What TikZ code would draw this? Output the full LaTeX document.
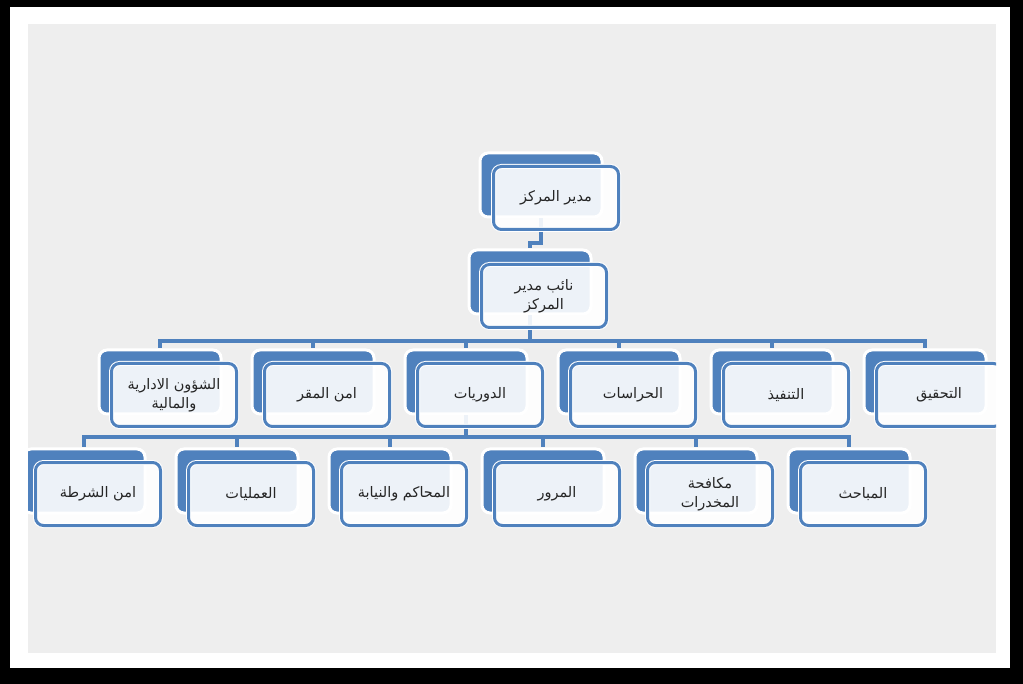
\documentclass[tikz,border=0pt]{standalone}
\usepackage{fontspec}
\newfontfamily\arabicfont[Script=Arabic]{DejaVu Sans}
\TeXXeTstate=1
\newcommand{\rl}[1]{\beginR#1\endR}
\definecolor{unitblue}{RGB}{79,129,189}
\definecolor{panelgray}{RGB}{238,238,238}
\begin{document}
\begin{tikzpicture}[x=1pt, y=-1pt,
  back/.style={rounded corners=8pt, fill=unitblue, draw=white, line width=3pt,
    minimum width=122pt, minimum height=64pt, inner sep=0pt},
  front/.style={rounded corners=8pt, draw=unitblue, line width=3pt,
    fill=white, fill opacity=0.9, text opacity=1,
    preaction={draw=white, line width=5pt},
    minimum width=125pt, minimum height=63pt, inner sep=2pt, align=center,
    text=black!85, font=\arabicfont\fontsize{14.5}{19}\selectfont},
  link/.style={draw=unitblue, line width=3.5pt}]

% ----- Frame -----
\fill[black] (0,0) rectangle (1023,684);
\fill[white] (10,7) rectangle (1010,668);
\fill[panelgray] (28,24) rectangle (996,653);

\begin{scope}
\clip (28,24) rectangle (996,653);

% ----- Back plates -----
\node[back] (b-head) at (541,185) {};
\node[back] (b-dep) at (530,282) {};
\foreach \n [count=\i from 0] in {adm,seat,patrol,guard,exec,inv}{
  \node[back] (b-\n) at (160+153*\i,382) {};
}
\foreach \n [count=\i from 0] in {police,ops,courts,traffic,drugs,crime}{
  \node[back] (b-\n) at (84+153*\i,481) {};
}

% ----- Connectors -----
\coordinate (bar0) at (0,243);
\coordinate (bar1) at (0,341);
\coordinate (bar2) at (0,437);
\draw[link] (b-head.south) |- (bar0 -| b-dep.north) -- (b-dep.north);
\foreach \n in {adm,seat,patrol,guard,exec,inv}{
  \draw[link] (b-dep.south) |- (bar1 -| b-\n.north) -- (b-\n.north);
}
\foreach \n in {police,ops,courts,traffic,drugs,crime}{
  \draw[link] (b-patrol.south) |- (bar2 -| b-\n.north) -- (b-\n.north);
}

% ----- Front boxes with labels -----
\node[front] (f-head) at ([shift={(15,13)}]b-head.center) {\rl{مدير المركز}};
\node[front] (f-dep) at ([shift={(14,14)}]b-dep.center) {\rl{نائب مدير}\\\rl{المركز}};
\foreach \n/\txt in {adm/{\rl{الشؤون الادارية}\\\rl{والمالية}}, seat/{\rl{امن المقر}},
    patrol/{\rl{الدوريات}}, guard/{\rl{الحراسات}}, exec/{\rl{التنفيذ}}, inv/{\rl{التحقيق}},
    police/{\rl{امن الشرطة}}, ops/{\rl{العمليات}}, courts/{\rl{المحاكم والنيابة}},
    traffic/{\rl{المرور}}, drugs/{\rl{مكافحة}\\\rl{المخدرات}}, crime/{\rl{المباحث}}}{
  \node[front] (f-\n) at ([shift={(14,13)}]b-\n.center) {\txt};
}
\end{scope}
\end{tikzpicture}
\end{document}
